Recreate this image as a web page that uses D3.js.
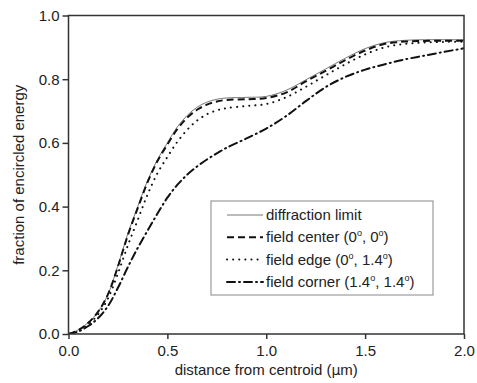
<!DOCTYPE html>
<html>
<head>
<meta charset="utf-8">
<script src="https://cdn.jsdelivr.net/npm/d3@7"></script>
<style>
  body { margin: 0; background: #fff; }
  svg { display: block; }
  text { font-family: "Liberation Sans", Arial, sans-serif; fill: #222; }
</style>
</head>
<body>
<svg id="chart" width="477" height="383"></svg>
<script>
// distance from centroid (um)
var distance = [0, 0.05, 0.1, 0.15, 0.2, 0.25, 0.3, 0.35, 0.4, 0.45, 0.5, 0.55, 0.6, 0.65, 0.7, 0.75, 0.8, 0.9, 1.0, 1.1, 1.2, 1.3, 1.4, 1.5, 1.6, 1.7, 1.8, 1.9, 2.0];

// fraction of encircled energy
var diffractionLimit = [0, 0.013, 0.036, 0.07, 0.125, 0.215, 0.315, 0.40, 0.482, 0.548, 0.60, 0.65, 0.686, 0.712, 0.728, 0.737, 0.741, 0.743, 0.746, 0.765, 0.798, 0.832, 0.866, 0.896, 0.915, 0.922, 0.924, 0.924, 0.924];
var fieldCenter = [0, 0.012, 0.035, 0.07, 0.125, 0.212, 0.31, 0.395, 0.477, 0.543, 0.595, 0.643, 0.679, 0.704, 0.72, 0.73, 0.735, 0.737, 0.741, 0.758, 0.793, 0.826, 0.86, 0.89, 0.911, 0.918, 0.92, 0.921, 0.921];
var fieldEdge = [0, 0.01, 0.03, 0.062, 0.112, 0.19, 0.278, 0.358, 0.438, 0.505, 0.556, 0.603, 0.641, 0.67, 0.69, 0.702, 0.709, 0.716, 0.722, 0.743, 0.776, 0.812, 0.847, 0.878, 0.9, 0.911, 0.915, 0.917, 0.918];
var fieldCorner = [0, 0.008, 0.025, 0.05, 0.088, 0.145, 0.21, 0.27, 0.325, 0.378, 0.428, 0.468, 0.5, 0.526, 0.548, 0.567, 0.585, 0.614, 0.645, 0.684, 0.731, 0.775, 0.807, 0.83, 0.847, 0.862, 0.874, 0.886, 0.897];

var xTicks = [0, 0.5, 1.0, 1.5, 2.0];
var yTicks = [0, 0.2, 0.4, 0.6, 0.8, 1.0];

var series = [
  {name: 'diffraction limit', values: diffractionLimit, stroke: '#777', width: 1, dash: null, cap: 'butt', deg: null},
  {name: 'field center', values: fieldCenter, stroke: '#111', width: 2, dash: '7,4', cap: 'butt', deg: ['0', '0']},
  {name: 'field edge', values: fieldEdge, stroke: '#111', width: 2, dash: '0.1,6', cap: 'round', deg: ['0', '1.4']},
  {name: 'field corner', values: fieldCorner, stroke: '#111', width: 2, dash: '8,4,1,4', cap: 'round', deg: ['1.4', '1.4']}
];

var svg = d3.select('#chart');
var margin = {left: 68.5, right: 13, top: 15.5, bottom: 49};
var W = 477, H = 383;

var x = d3.scaleLinear().domain([0, 2]).range([margin.left, W - margin.right]);
var y = d3.scaleLinear().domain([0, 1]).range([H - margin.bottom, margin.top]);

svg.append('clipPath').attr('id', 'plotclip')
  .append('rect')
  .attr('x', x(0)).attr('y', y(1))
  .attr('width', x(2) - x(0)).attr('height', y(0) - y(1));

var line = d3.line()
  .curve(d3.curveCatmullRom.alpha(0.5))
  .x(function(d){ return x(d[0]); })
  .y(function(d){ return y(d[1]); });

var lines = svg.append('g').attr('clip-path', 'url(#plotclip)');
series.forEach(function(s){
  lines.append('path')
    .attr('d', line(distance.map(function(d, i){ return [d, s.values[i]]; })))
    .attr('fill', 'none')
    .attr('stroke', s.stroke)
    .attr('stroke-width', s.width)
    .attr('stroke-linecap', s.cap)
    .attr('stroke-dasharray', s.dash);
});

// frame
svg.append('rect')
  .attr('x', x(0)).attr('y', y(1))
  .attr('width', x(2) - x(0)).attr('height', y(0) - y(1))
  .attr('fill', 'none').attr('stroke', '#333').attr('stroke-width', 1.5);

// x axis
var xAxis = svg.append('g').attr('transform', 'translate(0,' + y(0) + ')');
xAxis.call(d3.axisBottom(x).tickValues(d3.range(0, 2.01, 0.25)).tickSize(3).tickFormat(''));
xAxis.call(d3.axisBottom(x).tickValues(xTicks).tickSize(5).tickPadding(6).tickFormat(d3.format('.1f')));
xAxis.selectAll('.domain').remove();
xAxis.selectAll('line').attr('stroke', '#333').attr('stroke-width', 1.5);
xAxis.selectAll('text').attr('font-size', 15).attr('fill', '#222')
  .attr('font-family', '"Liberation Sans", Arial, sans-serif');

// y axis
var yAxis = svg.append('g').attr('transform', 'translate(' + x(0) + ',0)');
yAxis.call(d3.axisLeft(y).tickValues(d3.range(0, 1.01, 0.1)).tickSize(3).tickFormat(''));
yAxis.call(d3.axisLeft(y).tickValues(yTicks).tickSize(6).tickPadding(3).tickFormat(d3.format('.1f')));
yAxis.selectAll('.domain').remove();
yAxis.selectAll('line').attr('stroke', '#333').attr('stroke-width', 1.5);
yAxis.selectAll('text').attr('font-size', 15).attr('fill', '#222')
  .attr('font-family', '"Liberation Sans", Arial, sans-serif');

// axis titles
var xTitle = svg.append('text')
  .attr('x', (x(0) + x(2)) / 2).attr('y', 375)
  .attr('text-anchor', 'middle').attr('font-size', 15);
xTitle.append('tspan').text('distance from centroid (');
xTitle.append('tspan').attr('font-family', '"DejaVu Sans", sans-serif').attr('font-size', 14).text('μ');
xTitle.append('tspan').text('m)');

svg.append('text')
  .attr('transform', 'translate(24,' + ((y(0) + y(1)) / 2) + ') rotate(-90)')
  .attr('text-anchor', 'middle').attr('font-size', 15)
  .text('fraction of encircled energy');

// legend
var legend = svg.append('g').attr('transform', 'translate(211,201)');
legend.append('rect')
  .attr('width', 222).attr('height', 94)
  .attr('fill', '#fff').attr('stroke', '#888').attr('stroke-width', 1);

series.forEach(function(s, i){
  var ry = 14 + i * 22.3;
  legend.append('line')
    .attr('x1', 16).attr('x2', 52)
    .attr('y1', ry).attr('y2', ry)
    .attr('stroke', s.stroke).attr('stroke-width', s.width)
    .attr('stroke-linecap', s.cap)
    .attr('stroke-dasharray', s.dash);
  var t = legend.append('text')
    .attr('x', 55).attr('y', ry + 5)
    .attr('font-size', 15);
  if (!s.deg) {
    t.text(s.name);
  } else {
    t.append('tspan').text(s.name + ' (' + s.deg[0]);
    t.append('tspan').attr('font-size', 9).attr('dy', -6).text('o');
    t.append('tspan').attr('dy', 6).text(', ' + s.deg[1]);
    t.append('tspan').attr('font-size', 9).attr('dy', -6).text('o');
    t.append('tspan').attr('dy', 6).text(')');
  }
});
</script>
</body>
</html>
